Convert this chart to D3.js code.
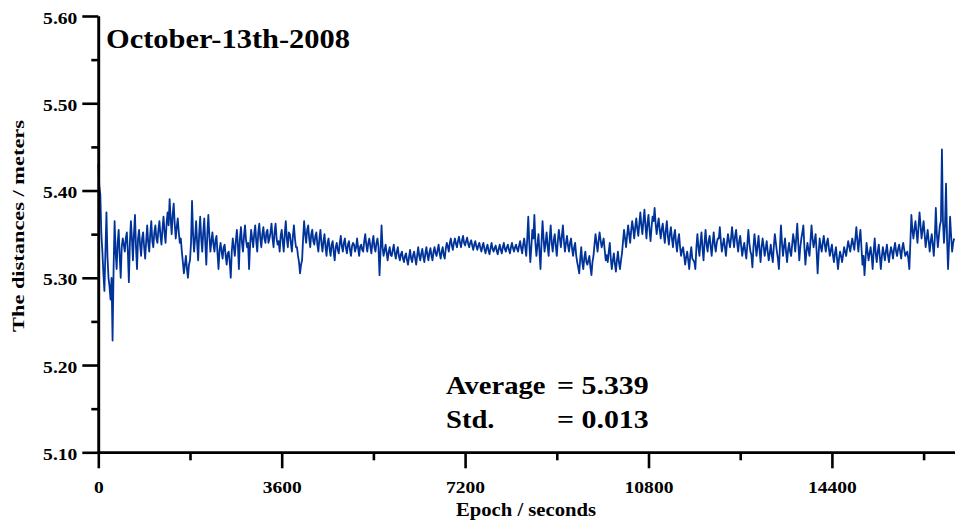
<!DOCTYPE html>
<html>
<head>
<meta charset="utf-8">
<script src="https://cdn.jsdelivr.net/npm/d3@7"></script>
<style>
  body { margin: 0; background: #fff; }
  svg text { font-family: "Liberation Serif", "Times New Roman", serif; font-weight: bold; fill: #000; }
</style>
</head>
<body>
<div id="chart"></div>
<script>
// distances, one sample every 20 s of epoch
const epochStep = 20;
const distances = [
  5.430,5.405, 5.395,5.350, 5.330,5.305, 5.285,5.330, 5.375,5.325, 5.300,5.290, 5.275,5.300, 5.228,5.310, 5.365,5.330, 5.310,5.340,
  5.355,5.325, 5.300,5.335, 5.345,5.338, 5.330,5.345, 5.352,5.330, 5.295,5.340, 5.365,5.345, 5.320,5.350, 5.372,5.335, 5.310,5.345,
  5.355,5.338, 5.325,5.345, 5.352,5.335, 5.322,5.342, 5.360,5.340, 5.330,5.350, 5.365,5.342, 5.335,5.352, 5.360,5.345, 5.340,5.355,
  5.365,5.348, 5.338,5.356, 5.370,5.352, 5.340,5.362, 5.375,5.360, 5.390,5.368, 5.350,5.372, 5.385,5.362, 5.345,5.358, 5.368,5.352,
  5.340,5.345, 5.330,5.318, 5.305,5.315, 5.325,5.310, 5.300,5.315, 5.320,5.340, 5.388,5.350, 5.330,5.345, 5.365,5.340, 5.320,5.350,
  5.370,5.345, 5.330,5.352, 5.368,5.340, 5.315,5.350, 5.372,5.348, 5.330,5.342, 5.352,5.338, 5.330,5.343, 5.348,5.328, 5.310,5.332,
  5.340,5.330, 5.322,5.335, 5.338,5.325, 5.315,5.328, 5.330,5.318, 5.300,5.330, 5.345,5.335, 5.325,5.342, 5.355,5.338, 5.310,5.345,
  5.358,5.340, 5.330,5.348, 5.360,5.343, 5.335,5.340, 5.310,5.338, 5.355,5.345, 5.335,5.350, 5.360,5.342, 5.330,5.352, 5.362,5.345,
  5.335,5.350, 5.358,5.345, 5.340,5.352, 5.355,5.340, 5.345,5.352, 5.362,5.345, 5.335,5.352, 5.362,5.345, 5.338,5.342, 5.330,5.348,
  5.355,5.342, 5.330,5.350, 5.365,5.345, 5.335,5.352, 5.350,5.340, 5.330,5.348, 5.360,5.345, 5.335,5.335, 5.325,5.318, 5.305,5.315,
  5.320,5.345, 5.365,5.350, 5.340,5.355, 5.360,5.345, 5.335,5.350, 5.355,5.342, 5.338,5.348, 5.352,5.338, 5.330,5.345, 5.355,5.340,
  5.330,5.342, 5.350,5.335, 5.325,5.340, 5.345,5.333, 5.325,5.338, 5.342,5.330, 5.320,5.335, 5.340,5.332, 5.328,5.340, 5.348,5.336,
  5.330,5.340, 5.345,5.334, 5.328,5.338, 5.342,5.332, 5.325,5.336, 5.340,5.338, 5.330,5.335, 5.345,5.334, 5.325,5.336, 5.338,5.332,
  5.330,5.342, 5.350,5.338, 5.330,5.340, 5.345,5.336, 5.328,5.340, 5.348,5.335, 5.330,5.340, 5.345,5.335, 5.303,5.330, 5.360,5.335,
  5.325,5.332, 5.338,5.328, 5.320,5.330, 5.335,5.326, 5.325,5.332, 5.338,5.328, 5.322,5.330, 5.335,5.325, 5.320,5.327, 5.330,5.322,
  5.318,5.325, 5.328,5.320, 5.315,5.324, 5.332,5.322, 5.318,5.326, 5.330,5.322, 5.315,5.326, 5.335,5.325, 5.320,5.328, 5.333,5.324,
  5.318,5.328, 5.335,5.326, 5.320,5.329, 5.334,5.325, 5.320,5.330, 5.335,5.328, 5.325,5.332, 5.338,5.328, 5.322,5.330, 5.335,5.326,
  5.322,5.333, 5.340,5.336, 5.330,5.340, 5.345,5.337, 5.332,5.340, 5.345,5.339, 5.335,5.342, 5.347,5.340, 5.335,5.343, 5.348,5.340,
  5.337,5.342, 5.346,5.339, 5.335,5.340, 5.343,5.337, 5.332,5.338, 5.342,5.336, 5.332,5.337, 5.340,5.334, 5.330,5.336, 5.340,5.333,
  5.328,5.334, 5.338,5.331, 5.327,5.334, 5.340,5.333, 5.330,5.334, 5.337,5.331, 5.327,5.333, 5.338,5.332, 5.328,5.335, 5.340,5.333,
  5.330,5.335, 5.338,5.332, 5.328,5.335, 5.340,5.334, 5.330,5.335, 5.338,5.333, 5.330,5.337, 5.342,5.334, 5.328,5.338, 5.345,5.335,
  5.325,5.345, 5.370,5.340, 5.318,5.335, 5.355,5.345, 5.372,5.340, 5.325,5.338, 5.350,5.330, 5.310,5.340, 5.365,5.345, 5.330,5.340,
  5.352,5.336, 5.325,5.345, 5.360,5.340, 5.330,5.343, 5.350,5.336, 5.325,5.342, 5.355,5.345, 5.335,5.348, 5.360,5.342, 5.330,5.340,
  5.348,5.337, 5.330,5.340, 5.345,5.333, 5.325,5.335, 5.340,5.326, 5.318,5.312, 5.305,5.322, 5.335,5.318, 5.310,5.323, 5.330,5.318,
  5.315,5.320, 5.325,5.312, 5.303,5.318, 5.325,5.338, 5.350,5.340, 5.330,5.342, 5.352,5.343, 5.335,5.340, 5.345,5.332, 5.320,5.326,
  5.318,5.330, 5.340,5.322, 5.310,5.320, 5.328,5.316, 5.307,5.320, 5.330,5.318, 5.310,5.320, 5.328,5.342, 5.355,5.345, 5.335,5.348,
  5.360,5.350, 5.340,5.354, 5.365,5.356, 5.345,5.358, 5.368,5.356, 5.348,5.362, 5.375,5.360, 5.350,5.365, 5.378,5.360, 5.345,5.362,
  5.372,5.355, 5.342,5.358, 5.370,5.365, 5.380,5.362, 5.350,5.360, 5.368,5.355, 5.345,5.356, 5.362,5.350, 5.340,5.354, 5.365,5.348,
  5.338,5.350, 5.358,5.345, 5.335,5.348, 5.355,5.340, 5.330,5.343, 5.350,5.335, 5.325,5.332, 5.335,5.325, 5.315,5.324, 5.330,5.320,
  5.310,5.326, 5.335,5.322, 5.320,5.318, 5.310,5.335, 5.350,5.335, 5.325,5.340, 5.352,5.334, 5.320,5.340, 5.355,5.338, 5.330,5.342,
  5.348,5.336, 5.325,5.340, 5.352,5.338, 5.330,5.340, 5.345,5.345, 5.358,5.342, 5.330,5.338, 5.345,5.335, 5.325,5.340, 5.350,5.342,
  5.335,5.345, 5.358,5.345, 5.335,5.348, 5.355,5.340, 5.330,5.342, 5.348,5.336, 5.325,5.334, 5.340,5.330, 5.322,5.338, 5.355,5.340,
  5.330,5.326, 5.312,5.335, 5.350,5.338, 5.325,5.336, 5.348,5.332, 5.318,5.335, 5.345,5.336, 5.325,5.333, 5.342,5.330, 5.320,5.328,
  5.338,5.326, 5.318,5.336, 5.350,5.340, 5.330,5.322, 5.310,5.335, 5.360,5.340, 5.325,5.336, 5.345,5.330, 5.318,5.332, 5.340,5.330,
  5.325,5.338, 5.350,5.342, 5.330,5.345, 5.362,5.340, 5.320,5.335, 5.345,5.352, 5.360,5.335, 5.315,5.330, 5.340,5.332, 5.325,5.342,
  5.360,5.345, 5.335,5.342, 5.350,5.330, 5.305,5.328, 5.345,5.336, 5.330,5.340, 5.348,5.338, 5.330,5.340, 5.345,5.334, 5.325,5.332,
  5.338,5.326, 5.318,5.328, 5.335,5.322, 5.310,5.322, 5.330,5.325, 5.318,5.326, 5.335,5.330, 5.325,5.334, 5.342,5.336, 5.330,5.338,
  5.345,5.338, 5.332,5.345, 5.358,5.342, 5.330,5.345, 5.355,5.335, 5.315,5.325, 5.303,5.322, 5.340,5.330, 5.320,5.328, 5.335,5.325,
  5.310,5.330, 5.345,5.328, 5.318,5.330, 5.338,5.325, 5.310,5.324, 5.335,5.328, 5.320,5.330, 5.338,5.326, 5.318,5.328, 5.335,5.330,
  5.322,5.333, 5.340,5.330, 5.325,5.333, 5.338,5.330, 5.322,5.334, 5.340,5.332, 5.325,5.328, 5.330,5.322, 5.310,5.340, 5.372,5.355,
  5.345,5.356, 5.365,5.352, 5.340,5.358, 5.375,5.360, 5.345,5.355, 5.365,5.350, 5.335,5.345, 5.355,5.342, 5.330,5.342, 5.350,5.338,
  5.325,5.345, 5.380,5.350, 5.335,5.348, 5.360,5.365, 5.447,5.365, 5.340,5.360, 5.408,5.345, 5.310,5.340, 5.370,5.348, 5.330,5.340,
  5.345
];
const epochs = distances.map((d, i) => i * epochStep);

// axes
const xMajorTicks = [0, 3600, 7200, 10800, 14400];
const xMinorTicks = [1800, 5400, 9000, 12600, 16200];
const yMajorTicks = [5.10, 5.20, 5.30, 5.40, 5.50, 5.60];
const yMinorTicks = [5.15, 5.25, 5.35, 5.45, 5.55];

const titleText = "October-13th-2008";
const statLabels = ["Average", "Std."];
const statValues = ["5.339", "0.013"];

const width = 955, height = 523;
const stretch = 1.15; // the type in the original is a bit wide

const svg = d3.select("#chart").append("svg")
  .attr("width", width)
  .attr("height", height);

const x = d3.scaleLinear().domain([0, 18000]).range([98.3, 1015.3]);
const y = d3.scaleLinear().domain([5.10, 5.60]).range([452.3, 16]);

// data line
const line = d3.line()
  .x((d, i) => x(epochs[i]))
  .y(d => y(d));

svg.append("path")
  .datum(distances)
  .attr("d", line)
  .attr("fill", "none")
  .attr("stroke", "#003399")
  .attr("stroke-width", 1.8)
  .attr("stroke-linejoin", "round");

// y axis, major + minor
const yAxis = svg.append("g").attr("transform", "translate(98.3,0)")
  .call(d3.axisLeft(y).tickValues(yMajorTicks).tickSize(16).tickSizeOuter(0).tickFormat(d3.format(".2f")));
svg.append("g").attr("transform", "translate(98.3,0)")
  .call(d3.axisLeft(y).tickValues(yMinorTicks).tickSize(7).tickSizeOuter(0).tickFormat(""));

// x axis, major + minor (runs past the right edge like the original)
const xAxis = svg.append("g").attr("transform", "translate(0,452.3)")
  .call(d3.axisBottom(x).tickValues(xMajorTicks).tickSize(16).tickSizeOuter(0).tickFormat(d3.format("d")));
svg.append("g").attr("transform", "translate(0,452.3)")
  .call(d3.axisBottom(x).tickValues(xMinorTicks).tickSize(8).tickSizeOuter(0).tickFormat(""));

svg.selectAll(".domain, .tick line")
  .attr("stroke", "#000")
  .attr("stroke-width", 2.6);

yAxis.selectAll(".tick text")
  .attr("x", null).attr("dy", null)
  .attr("font-size", 17)
  .attr("text-anchor", "end")
  .attr("transform", `translate(-21,7) scale(${stretch},1)`);

xAxis.selectAll(".tick text")
  .attr("y", null).attr("dy", null)
  .attr("font-size", 17)
  .attr("text-anchor", "middle")
  .attr("transform", `translate(0,41) scale(${stretch},1)`);

// axis titles
svg.append("text")
  .attr("transform", `translate(526,516) scale(${stretch},1)`)
  .attr("text-anchor", "middle")
  .attr("font-size", 18)
  .text("Epoch / seconds");

svg.append("text")
  .attr("transform", "translate(24,226) rotate(-90)")
  .attr("text-anchor", "middle")
  .attr("font-size", 17)
  .attr("textLength", 212)
  .attr("lengthAdjust", "spacingAndGlyphs")
  .text("The distances / meters");

// title
svg.append("text")
  .attr("x", 106).attr("y", 48)
  .attr("font-size", 28)
  .attr("textLength", 244)
  .attr("lengthAdjust", "spacingAndGlyphs")
  .text(titleText);

// statistics
const statRows = [394, 428];
statLabels.forEach((lab, i) => {
  svg.append("text")
    .attr("transform", `translate(446,${statRows[i]}) scale(1.1,1)`)
    .attr("font-size", 26)
    .text(lab);
  svg.append("text")
    .attr("transform", `translate(557,${statRows[i]}) scale(${stretch},1)`)
    .attr("font-size", 26)
    .text("= " + statValues[i]);
});
</script>
</body>
</html>
